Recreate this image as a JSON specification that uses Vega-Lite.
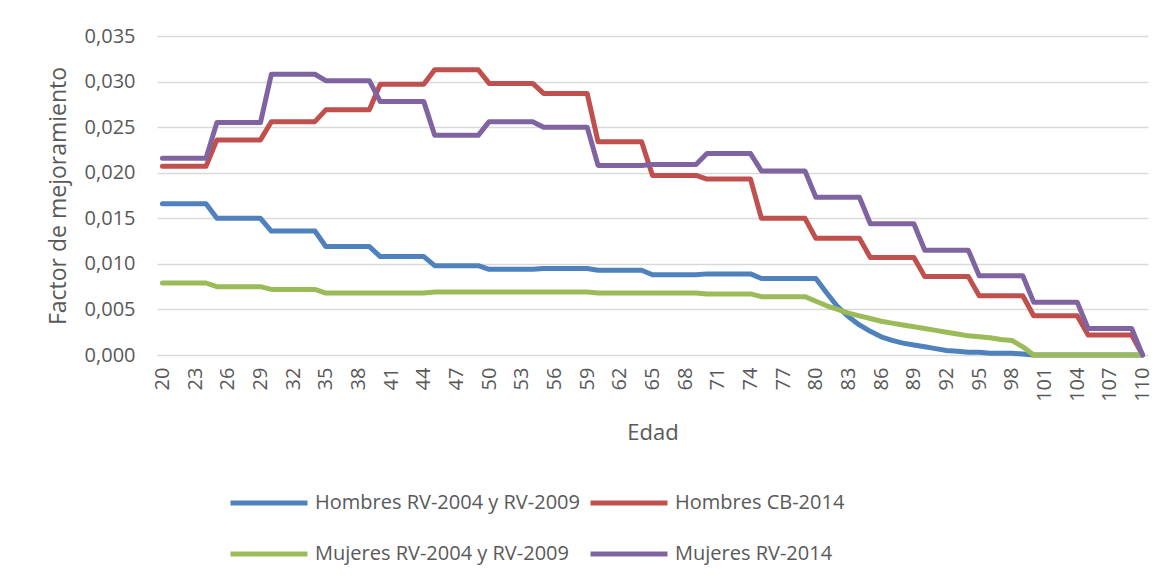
{
  "$schema": "https://vega.github.io/schema/vega-lite/v6.json",
  "width": 991,
  "height": 319,
  "autosize": "none",
  "padding": {"left": 157, "top": 36, "right": 19, "bottom": 224},
  "background": "white",
  "config": {"view": {"stroke": null}, "font": "Open Sans"},
  "data": {
    "values": [
      {"edad": 20, "hrv": 0.0166, "hcb": 0.0207, "mrv": 0.0079, "mrv14": 0.0216},
      {"edad": 21, "hrv": 0.0166, "hcb": 0.0207, "mrv": 0.0079, "mrv14": 0.0216},
      {"edad": 22, "hrv": 0.0166, "hcb": 0.0207, "mrv": 0.0079, "mrv14": 0.0216},
      {"edad": 23, "hrv": 0.0166, "hcb": 0.0207, "mrv": 0.0079, "mrv14": 0.0216},
      {"edad": 24, "hrv": 0.0166, "hcb": 0.0207, "mrv": 0.0079, "mrv14": 0.0216},
      {"edad": 25, "hrv": 0.0150, "hcb": 0.0236, "mrv": 0.0075, "mrv14": 0.0255},
      {"edad": 26, "hrv": 0.0150, "hcb": 0.0236, "mrv": 0.0075, "mrv14": 0.0255},
      {"edad": 27, "hrv": 0.0150, "hcb": 0.0236, "mrv": 0.0075, "mrv14": 0.0255},
      {"edad": 28, "hrv": 0.0150, "hcb": 0.0236, "mrv": 0.0075, "mrv14": 0.0255},
      {"edad": 29, "hrv": 0.0150, "hcb": 0.0236, "mrv": 0.0075, "mrv14": 0.0255},
      {"edad": 30, "hrv": 0.0136, "hcb": 0.0256, "mrv": 0.0072, "mrv14": 0.0308},
      {"edad": 31, "hrv": 0.0136, "hcb": 0.0256, "mrv": 0.0072, "mrv14": 0.0308},
      {"edad": 32, "hrv": 0.0136, "hcb": 0.0256, "mrv": 0.0072, "mrv14": 0.0308},
      {"edad": 33, "hrv": 0.0136, "hcb": 0.0256, "mrv": 0.0072, "mrv14": 0.0308},
      {"edad": 34, "hrv": 0.0136, "hcb": 0.0256, "mrv": 0.0072, "mrv14": 0.0308},
      {"edad": 35, "hrv": 0.0119, "hcb": 0.0269, "mrv": 0.0068, "mrv14": 0.0301},
      {"edad": 36, "hrv": 0.0119, "hcb": 0.0269, "mrv": 0.0068, "mrv14": 0.0301},
      {"edad": 37, "hrv": 0.0119, "hcb": 0.0269, "mrv": 0.0068, "mrv14": 0.0301},
      {"edad": 38, "hrv": 0.0119, "hcb": 0.0269, "mrv": 0.0068, "mrv14": 0.0301},
      {"edad": 39, "hrv": 0.0119, "hcb": 0.0269, "mrv": 0.0068, "mrv14": 0.0301},
      {"edad": 40, "hrv": 0.0108, "hcb": 0.0297, "mrv": 0.0068, "mrv14": 0.0278},
      {"edad": 41, "hrv": 0.0108, "hcb": 0.0297, "mrv": 0.0068, "mrv14": 0.0278},
      {"edad": 42, "hrv": 0.0108, "hcb": 0.0297, "mrv": 0.0068, "mrv14": 0.0278},
      {"edad": 43, "hrv": 0.0108, "hcb": 0.0297, "mrv": 0.0068, "mrv14": 0.0278},
      {"edad": 44, "hrv": 0.0108, "hcb": 0.0297, "mrv": 0.0068, "mrv14": 0.0278},
      {"edad": 45, "hrv": 0.0098, "hcb": 0.0313, "mrv": 0.0069, "mrv14": 0.0241},
      {"edad": 46, "hrv": 0.0098, "hcb": 0.0313, "mrv": 0.0069, "mrv14": 0.0241},
      {"edad": 47, "hrv": 0.0098, "hcb": 0.0313, "mrv": 0.0069, "mrv14": 0.0241},
      {"edad": 48, "hrv": 0.0098, "hcb": 0.0313, "mrv": 0.0069, "mrv14": 0.0241},
      {"edad": 49, "hrv": 0.0098, "hcb": 0.0313, "mrv": 0.0069, "mrv14": 0.0241},
      {"edad": 50, "hrv": 0.0094, "hcb": 0.0298, "mrv": 0.0069, "mrv14": 0.0256},
      {"edad": 51, "hrv": 0.0094, "hcb": 0.0298, "mrv": 0.0069, "mrv14": 0.0256},
      {"edad": 52, "hrv": 0.0094, "hcb": 0.0298, "mrv": 0.0069, "mrv14": 0.0256},
      {"edad": 53, "hrv": 0.0094, "hcb": 0.0298, "mrv": 0.0069, "mrv14": 0.0256},
      {"edad": 54, "hrv": 0.0094, "hcb": 0.0298, "mrv": 0.0069, "mrv14": 0.0256},
      {"edad": 55, "hrv": 0.0095, "hcb": 0.0287, "mrv": 0.0069, "mrv14": 0.0250},
      {"edad": 56, "hrv": 0.0095, "hcb": 0.0287, "mrv": 0.0069, "mrv14": 0.0250},
      {"edad": 57, "hrv": 0.0095, "hcb": 0.0287, "mrv": 0.0069, "mrv14": 0.0250},
      {"edad": 58, "hrv": 0.0095, "hcb": 0.0287, "mrv": 0.0069, "mrv14": 0.0250},
      {"edad": 59, "hrv": 0.0095, "hcb": 0.0287, "mrv": 0.0069, "mrv14": 0.0250},
      {"edad": 60, "hrv": 0.0093, "hcb": 0.0234, "mrv": 0.0068, "mrv14": 0.0208},
      {"edad": 61, "hrv": 0.0093, "hcb": 0.0234, "mrv": 0.0068, "mrv14": 0.0208},
      {"edad": 62, "hrv": 0.0093, "hcb": 0.0234, "mrv": 0.0068, "mrv14": 0.0208},
      {"edad": 63, "hrv": 0.0093, "hcb": 0.0234, "mrv": 0.0068, "mrv14": 0.0208},
      {"edad": 64, "hrv": 0.0093, "hcb": 0.0234, "mrv": 0.0068, "mrv14": 0.0208},
      {"edad": 65, "hrv": 0.0088, "hcb": 0.0197, "mrv": 0.0068, "mrv14": 0.0209},
      {"edad": 66, "hrv": 0.0088, "hcb": 0.0197, "mrv": 0.0068, "mrv14": 0.0209},
      {"edad": 67, "hrv": 0.0088, "hcb": 0.0197, "mrv": 0.0068, "mrv14": 0.0209},
      {"edad": 68, "hrv": 0.0088, "hcb": 0.0197, "mrv": 0.0068, "mrv14": 0.0209},
      {"edad": 69, "hrv": 0.0088, "hcb": 0.0197, "mrv": 0.0068, "mrv14": 0.0209},
      {"edad": 70, "hrv": 0.0089, "hcb": 0.0193, "mrv": 0.0067, "mrv14": 0.0221},
      {"edad": 71, "hrv": 0.0089, "hcb": 0.0193, "mrv": 0.0067, "mrv14": 0.0221},
      {"edad": 72, "hrv": 0.0089, "hcb": 0.0193, "mrv": 0.0067, "mrv14": 0.0221},
      {"edad": 73, "hrv": 0.0089, "hcb": 0.0193, "mrv": 0.0067, "mrv14": 0.0221},
      {"edad": 74, "hrv": 0.0089, "hcb": 0.0193, "mrv": 0.0067, "mrv14": 0.0221},
      {"edad": 75, "hrv": 0.0084, "hcb": 0.0150, "mrv": 0.0064, "mrv14": 0.0202},
      {"edad": 76, "hrv": 0.0084, "hcb": 0.0150, "mrv": 0.0064, "mrv14": 0.0202},
      {"edad": 77, "hrv": 0.0084, "hcb": 0.0150, "mrv": 0.0064, "mrv14": 0.0202},
      {"edad": 78, "hrv": 0.0084, "hcb": 0.0150, "mrv": 0.0064, "mrv14": 0.0202},
      {"edad": 79, "hrv": 0.0084, "hcb": 0.0150, "mrv": 0.0064, "mrv14": 0.0202},
      {"edad": 80, "hrv": 0.0084, "hcb": 0.0128, "mrv": 0.0059, "mrv14": 0.0173},
      {"edad": 81, "hrv": 0.0068, "hcb": 0.0128, "mrv": 0.0054, "mrv14": 0.0173},
      {"edad": 82, "hrv": 0.0053, "hcb": 0.0128, "mrv": 0.0050, "mrv14": 0.0173},
      {"edad": 83, "hrv": 0.0042, "hcb": 0.0128, "mrv": 0.0046, "mrv14": 0.0173},
      {"edad": 84, "hrv": 0.0033, "hcb": 0.0128, "mrv": 0.0043, "mrv14": 0.0173},
      {"edad": 85, "hrv": 0.0026, "hcb": 0.0107, "mrv": 0.0040, "mrv14": 0.0144},
      {"edad": 86, "hrv": 0.0020, "hcb": 0.0107, "mrv": 0.0037, "mrv14": 0.0144},
      {"edad": 87, "hrv": 0.0016, "hcb": 0.0107, "mrv": 0.0035, "mrv14": 0.0144},
      {"edad": 88, "hrv": 0.0013, "hcb": 0.0107, "mrv": 0.0033, "mrv14": 0.0144},
      {"edad": 89, "hrv": 0.0011, "hcb": 0.0107, "mrv": 0.0031, "mrv14": 0.0144},
      {"edad": 90, "hrv": 0.0009, "hcb": 0.0086, "mrv": 0.0029, "mrv14": 0.0115},
      {"edad": 91, "hrv": 0.0007, "hcb": 0.0086, "mrv": 0.0027, "mrv14": 0.0115},
      {"edad": 92, "hrv": 0.0005, "hcb": 0.0086, "mrv": 0.0025, "mrv14": 0.0115},
      {"edad": 93, "hrv": 0.0004, "hcb": 0.0086, "mrv": 0.0023, "mrv14": 0.0115},
      {"edad": 94, "hrv": 0.0003, "hcb": 0.0086, "mrv": 0.0021, "mrv14": 0.0115},
      {"edad": 95, "hrv": 0.0003, "hcb": 0.0065, "mrv": 0.0020, "mrv14": 0.0087},
      {"edad": 96, "hrv": 0.0002, "hcb": 0.0065, "mrv": 0.0019, "mrv14": 0.0087},
      {"edad": 97, "hrv": 0.0002, "hcb": 0.0065, "mrv": 0.0017, "mrv14": 0.0087},
      {"edad": 98, "hrv": 0.0002, "hcb": 0.0065, "mrv": 0.0016, "mrv14": 0.0087},
      {"edad": 99, "hrv": 0.0001, "hcb": 0.0065, "mrv": 0.0009, "mrv14": 0.0087},
      {"edad": 100, "hrv": 0, "hcb": 0.0043, "mrv": 0, "mrv14": 0.0058},
      {"edad": 101, "hrv": 0, "hcb": 0.0043, "mrv": 0, "mrv14": 0.0058},
      {"edad": 102, "hrv": 0, "hcb": 0.0043, "mrv": 0, "mrv14": 0.0058},
      {"edad": 103, "hrv": 0, "hcb": 0.0043, "mrv": 0, "mrv14": 0.0058},
      {"edad": 104, "hrv": 0, "hcb": 0.0043, "mrv": 0, "mrv14": 0.0058},
      {"edad": 105, "hrv": 0, "hcb": 0.0022, "mrv": 0, "mrv14": 0.0029},
      {"edad": 106, "hrv": 0, "hcb": 0.0022, "mrv": 0, "mrv14": 0.0029},
      {"edad": 107, "hrv": 0, "hcb": 0.0022, "mrv": 0, "mrv14": 0.0029},
      {"edad": 108, "hrv": 0, "hcb": 0.0022, "mrv": 0, "mrv14": 0.0029},
      {"edad": 109, "hrv": 0, "hcb": 0.0022, "mrv": 0, "mrv14": 0.0029},
      {"edad": 110, "hrv": 0, "hcb": 0, "mrv": 0, "mrv14": 0}
    ]
  },
  "transform": [
    {"fold": ["hrv", "hcb", "mrv", "mrv14"], "as": ["serie", "valor"]}
  ],
  "mark": {"type": "line", "strokeWidth": 5, "strokeJoin": "round", "strokeCap": "round"},
  "encoding": {
    "x": {
      "field": "edad",
      "type": "quantitative",
      "scale": {"domain": [19.5, 110.5], "nice": false, "zero": false},
      "axis": {
        "values": [20, 23, 26, 29, 32, 35, 38, 41, 44, 47, 50, 53, 56, 59, 62, 65, 68, 71, 74, 77, 80, 83, 86, 89, 92, 95, 98, 101, 104, 107, 110],
        "labelAngle": -90,
        "labelFontSize": 20,
        "labelColor": "#595959",
        "labelPadding": 12,
        "labelOverlap": false,
        "ticks": false,
        "domain": false,
        "grid": false,
        "title": "Edad",
        "titleFontSize": 22,
        "titleFontWeight": "normal",
        "titleColor": "#595959",
        "titlePadding": 21
      }
    },
    "y": {
      "field": "valor",
      "type": "quantitative",
      "scale": {"domain": [0, 0.035], "nice": false},
      "axis": {
        "values": [0, 0.005, 0.01, 0.015, 0.02, 0.025, 0.03, 0.035],
        "labelExpr": "replace(format(datum.value, '.3f'), '.', ',')",
        "labelFontSize": 20,
        "labelColor": "#595959",
        "labelPadding": 22,
        "ticks": false,
        "domain": false,
        "grid": true,
        "gridColor": "#d9d9d9",
        "gridWidth": 1.5,
        "title": "Factor de mejoramiento",
        "titleFontSize": 23,
        "titleFontWeight": "normal",
        "titleColor": "#595959",
        "titlePadding": 14
      }
    },
    "color": {
      "field": "serie",
      "type": "nominal",
      "scale": {
        "domain": ["hrv", "hcb", "mrv", "mrv14"],
        "range": ["#4f81bd", "#c0504d", "#9bbb59", "#8064a2"]
      },
      "legend": {
        "orient": "none",
        "direction": "horizontal",
        "legendX": 71,
        "legendY": 426,
        "columns": 2,
        "title": null,
        "symbolType": "stroke",
        "symbolSize": 5929,
        "symbolStrokeWidth": 5,
        "labelFontSize": 20,
        "labelColor": "#595959",
        "labelOffset": 5,
        "labelLimit": 400,
        "columnPadding": 0,
        "rowPadding": -8,
        "labelExpr": "datum.value == 'hrv' ? 'Hombres RV-2004 y RV-2009' : datum.value == 'hcb' ? 'Hombres CB-2014' : datum.value == 'mrv' ? 'Mujeres RV-2004 y RV-2009' : 'Mujeres RV-2014'"
      }
    }
  }
}
